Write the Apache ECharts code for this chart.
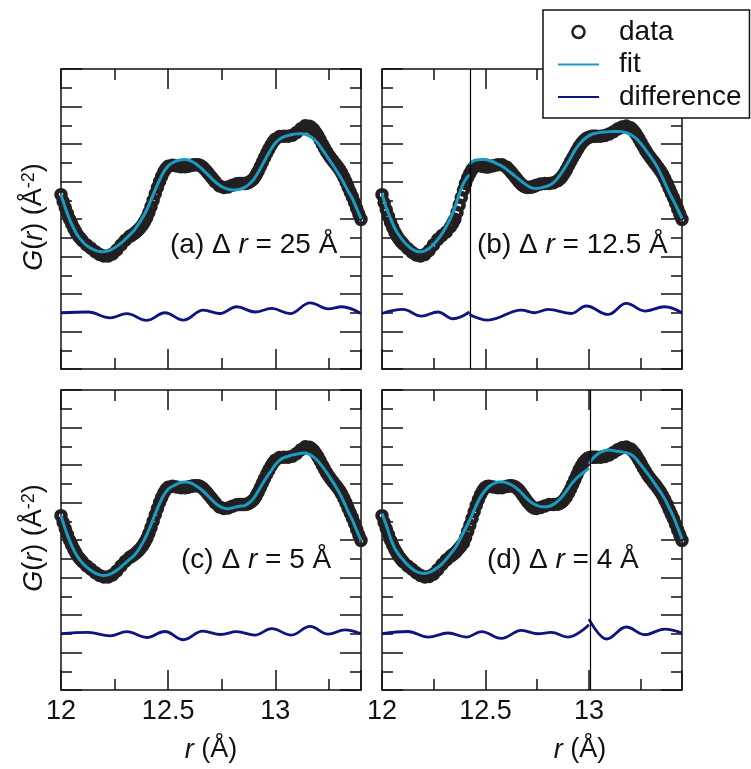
<!DOCTYPE html>
<html>
<head>
<meta charset="utf-8">
<script src="https://cdn.jsdelivr.net/npm/echarts@6/dist/echarts.min.js"></script>
<style>
  html, body { margin: 0; padding: 0; background: #fff; }
  #chart { width: 751px; height: 769px; }
</style>
</head>
<body>
<div id="chart"></div>
<script>
// r grid (Å) shared by the measured data and the fitted curves
const rGrid = [
  12.00, 12.02, 12.04, 12.06, 12.08, 12.10, 12.12, 12.14, 12.16, 12.18,
  12.20, 12.22, 12.24, 12.26, 12.28, 12.30, 12.32, 12.34, 12.36, 12.38,
  12.40, 12.42, 12.44, 12.46, 12.48, 12.50, 12.52, 12.54, 12.56, 12.58,
  12.60, 12.62, 12.64, 12.66, 12.68, 12.70, 12.72, 12.74, 12.76, 12.78,
  12.80, 12.82, 12.84, 12.86, 12.88, 12.90, 12.92, 12.94, 12.96, 12.98,
  13.00, 13.02, 13.04, 13.06, 13.08, 13.10, 13.12, 13.14, 13.16, 13.18,
  13.20, 13.22, 13.24, 13.26, 13.28, 13.30, 13.32, 13.34, 13.36, 13.38,
  13.40
];

// measured G(r) as plotted in each panel
const gDataAC = [
  1.30, 0.60, -0.01, -0.50, -0.89, -1.16, -1.38, -1.56, -1.74, -1.89,
  -1.97, -1.97, -1.86, -1.65, -1.39, -1.13, -0.93, -0.79, -0.59, -0.32,
  0.07, 0.66, 1.35, 2.00, 2.52, 2.81, 2.87, 2.83, 2.79, 2.79,
  2.84, 2.89, 2.89, 2.78, 2.54, 2.26, 1.98, 1.76, 1.68, 1.71,
  1.80, 1.88, 1.90, 1.89, 1.97, 2.16, 2.55, 3.04, 3.52, 3.95,
  4.26, 4.40, 4.42, 4.41, 4.47, 4.62, 4.82, 4.97, 4.95, 4.76,
  4.42, 3.99, 3.58, 3.24, 2.95, 2.64, 2.23, 1.70, 1.18, 0.56,
  -0.02
];
const gDataB = [
  1.30, 0.49, -0.18, -0.71, -1.08, -1.35, -1.57, -1.77, -1.92, -1.97,
  -1.89, -1.68, -1.38, -1.09, -0.88, -0.69, -0.41, -0.01, 0.75, 1.55,
  2.20, 2.64, 2.85, 2.84, 2.79, 2.79, 2.84, 2.89, 2.89, 2.78,
  2.54, 2.26, 1.98, 1.76, 1.68, 1.71, 1.80, 1.87, 1.89, 1.89,
  1.93, 2.04, 2.26, 2.62, 3.06, 3.47, 3.86, 4.16, 4.34, 4.41,
  4.42, 4.41, 4.45, 4.53, 4.65, 4.80, 4.91, 4.96, 4.87, 4.62,
  4.26, 3.85, 3.48, 3.17, 2.88, 2.56, 2.15, 1.64, 1.13, 0.54,
  -0.02
];
const gDataD = [
  1.30, 0.60, -0.01, -0.51, -0.89, -1.17, -1.38, -1.56, -1.75, -1.89,
  -1.97, -1.95, -1.82, -1.58, -1.31, -1.06, -0.87, -0.69, -0.44, -0.16,
  0.46, 1.15, 1.85, 2.43, 2.78, 2.87, 2.83, 2.79, 2.79, 2.85,
  2.89, 2.84, 2.65, 2.35, 2.03, 1.77, 1.68, 1.73, 1.82, 1.89,
  1.90, 1.91, 2.03, 2.30, 2.72, 3.22, 3.74, 4.13, 4.36, 4.41,
  4.42, 4.41, 4.46, 4.54, 4.67, 4.81, 4.92, 4.96, 4.86, 4.61,
  4.25, 3.84, 3.47, 3.16, 2.88, 2.56, 2.14, 1.63, 1.13, 0.54,
  -0.02
];

// additional measured points where the curve is steep (finer sampling there)
const rDataExtra = [
  12.01, 12.03, 12.05, 12.07, 12.09,
  12.33, 12.35, 12.37, 12.39, 12.41, 12.43, 12.45, 12.47, 12.49,
  12.59, 12.61, 12.63, 12.65, 12.67, 12.69, 12.71,
  12.83, 12.85, 12.87, 12.89, 12.91, 12.93, 12.95, 12.97, 12.99,
  13.17, 13.19, 13.21, 13.23, 13.25, 13.27, 13.29, 13.31, 13.33, 13.35, 13.37, 13.39
];
const gDataACExtra = [
  0.93, 0.29, -0.26, -0.70, -1.03,
  -0.86, -0.69, -0.47, -0.14, 0.35, 1.00, 1.68, 2.28, 2.69,
  2.81, 2.87, 2.90, 2.85, 2.67, 2.40, 2.12,
  1.89, 1.90, 1.92, 2.05, 2.34, 2.79, 3.28, 3.74, 4.12,
  4.87, 4.60, 4.21, 3.78, 3.40, 3.09, 2.80, 2.45, 1.98, 1.44, 0.88, 0.27
];
const gDataBExtra = [
  0.87, 0.14, -0.45, -0.91, -1.22,
  -0.22, 0.35, 1.15, 1.90, 2.44, 2.77, 2.86, 2.81, 2.78,
  2.67, 2.40, 2.12, 1.86, 1.71, 1.69, 1.75,
  2.14, 2.43, 2.84, 3.27, 3.67, 4.02, 4.26, 4.38, 4.42,
  4.76, 4.45, 4.06, 3.66, 3.32, 3.02, 2.72, 2.37, 1.91, 1.39, 0.85, 0.26
];
const gDataDExtra = [
  0.93, 0.29, -0.27, -0.71, -1.04,
  -0.78, -0.57, -0.31, 0.12, 0.80, 1.51, 2.16, 2.63, 2.85,
  2.88, 2.88, 2.76, 2.51, 2.19, 1.89, 1.71,
  1.96, 2.15, 2.50, 2.97, 3.48, 3.95, 4.26, 4.40, 4.42,
  4.75, 4.44, 4.05, 3.65, 3.31, 3.02, 2.72, 2.36, 1.90, 1.38, 0.84, 0.26
];

// fitted G(r): single-range fits (a), (c)
const fitA = [
  1.30, 0.60, -0.02, -0.52, -0.92, -1.20, -1.42, -1.57, -1.67, -1.73,
  -1.74, -1.70, -1.60, -1.46, -1.29, -1.08, -0.86, -0.62, -0.30, 0.06,
  0.48, 1.02, 1.57, 2.08, 2.52, 2.83, 3.00, 3.10, 3.16, 3.17,
  3.12, 3.01, 2.85, 2.65, 2.42, 2.20, 1.98, 1.80, 1.67, 1.59,
  1.55, 1.56, 1.61, 1.70, 1.88, 2.12, 2.48, 2.90, 3.32, 3.72,
  4.05, 4.26, 4.38, 4.45, 4.51, 4.54, 4.55, 4.52, 4.42, 4.26,
  4.02, 3.70, 3.36, 3.02, 2.68, 2.32, 1.92, 1.48, 1.08, 0.56,
  0.02
];
const fitC = [
  1.30, 0.59, -0.03, -0.54, -0.94, -1.23, -1.45, -1.63, -1.77, -1.86,
  -1.89, -1.86, -1.76, -1.61, -1.43, -1.23, -1.03, -0.84, -0.55, -0.17,
  0.27, 0.82, 1.40, 1.94, 2.40, 2.71, 2.87, 2.98, 3.08, 3.10,
  3.06, 2.96, 2.81, 2.64, 2.42, 2.19, 1.97, 1.80, 1.70, 1.67,
  1.71, 1.77, 1.81, 1.85, 2.00, 2.23, 2.60, 2.99, 3.35, 3.68,
  4.01, 4.25, 4.39, 4.46, 4.54, 4.58, 4.63, 4.64, 4.56, 4.42,
  4.20, 3.91, 3.59, 3.25, 2.89, 2.50, 2.03, 1.51, 1.06, 0.51,
  -0.02
];

// box-car fits (b), (d): two independent ranges meeting at the boundary
const breakB = 12.408;
const breakD = 12.966;
const fitB1 = [
  1.35, 0.60, 0.02, -0.50, -0.88, -1.18, -1.42, -1.60, -1.72, -1.75,
  -1.70, -1.56, -1.36, -1.10, -0.78, -0.40, 0.05, 0.62, 1.30, 1.90,
  2.26, 2.35
];
const fitB2 = [
  2.90, 3.05, 3.14, 3.18, 3.17, 3.12, 3.04, 2.93, 2.82, 2.66,
  2.48, 2.30, 2.11, 1.93, 1.77, 1.66, 1.63, 1.66, 1.72, 1.79,
  1.94, 2.18, 2.50, 2.86, 3.26, 3.66, 3.98, 4.22, 4.40, 4.52,
  4.58, 4.62, 4.64, 4.66, 4.67, 4.67, 4.66, 4.60, 4.50, 4.35,
  4.12, 3.85, 3.53, 3.22, 2.86, 2.42, 1.92, 1.42, 0.98, 0.52,
  0.02
];
const fitD1 = [
  1.40, 0.80, 0.08, -0.45, -0.80, -1.08, -1.33, -1.53, -1.68, -1.76,
  -1.78, -1.73, -1.62, -1.47, -1.27, -1.02, -0.74, -0.44, -0.05, 0.40,
  0.85, 1.32, 1.85, 2.30, 2.63, 2.86, 3.00, 3.09, 3.11, 3.06,
  2.96, 2.83, 2.64, 2.40, 2.17, 1.98, 1.86, 1.78, 1.77, 1.80,
  1.90, 2.07, 2.30, 2.60, 2.93, 3.20, 3.42, 3.60, 3.78, 3.82
];
const fitD2 = [
  4.05, 4.30, 4.52, 4.68, 4.77, 4.80, 4.77, 4.73, 4.70, 4.65,
  4.57, 4.40, 4.12, 3.83, 3.53, 3.22, 2.88, 2.55, 2.18, 1.72,
  1.24, 0.66, 0.05
];

// difference curves (data - fit), given at their turning points
const diffA_r = [12.00, 12.127, 12.229, 12.307, 12.40, 12.485, 12.571, 12.664, 12.742, 12.82, 12.905, 12.983, 13.069, 13.162, 13.247, 13.31, 13.40];
const diffA   = [0.00, 0.04, -0.27, -0.05, -0.41, 0.00, -0.39, 0.14, -0.04, 0.32, 0.04, 0.23, -0.05, 0.53, 0.21, 0.32, -0.04];
const diffB1_r = [12.00, 12.098, 12.184, 12.261, 12.331, 12.408];
const diffB1   = [-0.04, 0.18, -0.18, 0.04, -0.32, 0.04];
const diffB2_r = [12.408, 12.495, 12.65, 12.712, 12.775, 12.883, 12.953, 13.055, 13.14, 13.226, 13.319, 13.40];
const diffB2   = [-0.09, -0.39, 0.14, 0.00, 0.18, -0.04, 0.36, -0.09, 0.50, 0.09, 0.32, 0.00];
const diffC_r = [12.00, 12.127, 12.229, 12.307, 12.40, 12.485, 12.571, 12.661, 12.745, 12.82, 12.905, 12.983, 13.075, 13.162, 13.247, 13.325, 13.40];
const diffC   = [0.00, 0.07, -0.11, 0.11, -0.20, 0.12, -0.32, 0.14, -0.04, 0.11, -0.07, 0.27, -0.07, 0.39, -0.02, 0.21, 0.00];
const diffD1_r = [12.00, 12.121, 12.215, 12.308, 12.394, 12.464, 12.557, 12.65, 12.728, 12.79, 12.868, 12.966];
const diffD1   = [0.00, 0.12, -0.18, 0.04, -0.18, 0.11, -0.25, 0.18, 0.00, 0.07, -0.18, 0.48];
const diffD2_r = [12.966, 13.047, 13.14, 13.226, 13.319, 13.40];
const diffD2   = [0.78, -0.28, 0.36, -0.05, 0.25, 0.04];

// the difference curve is shown shifted below the data
const DIFF_BASE = -5;

// axis ranges
const xRangeData = { min: 12, max: 13.4, step: 0.5 };
const xRangeRightTicks = { min: 12, max: 13.45, step: 0.5 };
const yRange = { min: -8, max: 8, step: 2 };

const panelLabels = [
  '(a) Δ {i|r} = 25 Å',
  '(b) Δ {i|r} = 12.5 Å',
  '(c) Δ {i|r} = 5 Å',
  '(d) Δ {i|r} = 4 Å'
];
const legendNames = ['data', 'fit', 'difference'];

// ---------------------------------------------------------------
const FONT = '"Liberation Sans", Arial, Helvetica, sans-serif';
const INK = '#231f20';
const TEXT = '#111111';
const FIT_COLOR = '#1a9cc2';
const DIFF_COLOR = '#0e137e';

const pairs = (xs, ys, offset = 0) => xs.map((x, k) => [x, ys[k] + offset]);

const grids = [
  { left: 61,  top: 69,  width: 300, height: 300 },
  { left: 382, top: 69,  width: 300, height: 300 },
  { left: 61,  top: 390, width: 300, height: 300 },
  { left: 382, top: 390, width: 300, height: 300 }
];

const frameLine = { show: true, onZero: false, lineStyle: { color: TEXT, width: 1.5 } };
const tickStyle = { color: TEXT, width: 1.5 };

function xAxisCfg(gridIndex, position, range, showLabels, visible = true) {
  return {
    type: 'value', gridIndex, position, show: visible,
    min: range.min, max: range.max, interval: range.step,
    axisLine: frameLine,
    axisTick: { show: true, inside: true, length: 20, lineStyle: tickStyle },
    minorTick: { show: true, splitNumber: 2, length: 11, lineStyle: tickStyle },
    splitLine: { show: false }, minorSplitLine: { show: false },
    axisLabel: {
      show: showLabels, margin: 8, fontSize: 27, fontFamily: FONT, color: TEXT,
      showMaxLabel: false, showMinLabel: true
    },
    axisPointer: { show: false }
  };
}
function yAxisCfg(gridIndex, position) {
  return {
    type: 'value', gridIndex, position,
    min: yRange.min, max: yRange.max, interval: yRange.step,
    axisLine: frameLine,
    axisTick: { show: true, inside: true, length: 21, lineStyle: tickStyle },
    minorTick: { show: true, splitNumber: 2, length: 11, lineStyle: tickStyle },
    splitLine: { show: false }, minorSplitLine: { show: false },
    axisLabel: { show: false }
  };
}

const xAxes = [];
const yAxes = [];
const dataX = [];
const dataY = [];
grids.forEach((g, i) => {
  const rightCol = i % 2 === 1;
  const bottomRow = i >= 2;
  const tickRange = rightCol ? xRangeRightTicks : xRangeData;
  const bottomIdx = xAxes.push(xAxisCfg(i, 'bottom', tickRange, bottomRow)) - 1;
  xAxes.push(xAxisCfg(i, 'top', tickRange, false));
  if (rightCol) {
    dataX.push(xAxes.push(xAxisCfg(i, 'bottom', xRangeData, false, false)) - 1);
  } else {
    dataX.push(bottomIdx);
  }
  dataY.push(yAxes.push(yAxisCfg(i, 'left')) - 1);
  yAxes.push(yAxisCfg(i, 'right'));
});

// open circles, drawn densely enough to merge into a dark band
function dataSeries(p, values, extra) {
  return {
    type: 'scatter', name: 'data', xAxisIndex: dataX[p], yAxisIndex: dataY[p],
    data: pairs(rGrid, values).concat(pairs(rDataExtra, extra)),
    symbol: 'circle', symbolSize: 9,
    itemStyle: { color: 'transparent', borderColor: INK, borderWidth: 4.5, opacity: 1 },
    silent: true, z: 2
  };
}
function fitSeries(p, xs, ys, boundary) {
  const s = {
    type: 'line', name: 'fit', xAxisIndex: dataX[p], yAxisIndex: dataY[p],
    data: pairs(xs, ys), smooth: 0.3, symbol: 'none', showSymbol: false,
    lineStyle: { color: FIT_COLOR, width: 3 }, itemStyle: { color: FIT_COLOR },
    silent: true, z: 3
  };
  if (boundary !== undefined) {
    s.markLine = {
      silent: true, symbol: 'none', animation: false,
      label: { show: false },
      lineStyle: { color: '#000', width: 1.2, type: 'solid' },
      emphasis: { disabled: true },
      data: [{ xAxis: boundary }]
    };
  }
  return s;
}
function diffSeries(p, xs, ys) {
  return {
    type: 'line', name: 'difference', xAxisIndex: dataX[p], yAxisIndex: dataY[p],
    data: pairs(xs, ys, DIFF_BASE), smooth: 0.4, smoothMonotone: 'x',
    symbol: 'none', showSymbol: false,
    lineStyle: { color: DIFF_COLOR, width: 2.8 }, itemStyle: { color: DIFF_COLOR },
    silent: true, z: 4
  };
}

const rB1 = rGrid.slice(0, 21).concat([breakB]);
const rB2 = [breakB].concat(rGrid.slice(21));
const rD1 = rGrid.slice(0, 49).concat([breakD]);
const rD2 = [breakD].concat(rGrid.slice(49));

const series = [
  dataSeries(0, gDataAC, gDataACExtra), fitSeries(0, rGrid, fitA), diffSeries(0, diffA_r, diffA),
  dataSeries(1, gDataB, gDataBExtra), fitSeries(1, rB1, fitB1, breakB), fitSeries(1, rB2, fitB2),
  diffSeries(1, diffB1_r, diffB1), diffSeries(1, diffB2_r, diffB2),
  dataSeries(2, gDataAC, gDataACExtra), fitSeries(2, rGrid, fitC), diffSeries(2, diffC_r, diffC),
  dataSeries(3, gDataD, gDataDExtra), fitSeries(3, rD1, fitD1, breakD), fitSeries(3, rD2, fitD2),
  diffSeries(3, diffD1_r, diffD1), diffSeries(3, diffD2_r, diffD2)
];

const italic = { fontStyle: 'italic', fontFamily: FONT, fontSize: 28, fill: TEXT };
const labelPos = [[170, 245], [477, 245], [181, 560], [487, 560]];
const graphic = panelLabels.map((t, i) => ({
  type: 'text', x: labelPos[i][0], y: labelPos[i][1], z: 1,
  style: {
    text: t, fontFamily: FONT, fontSize: 28, fill: TEXT,
    align: 'left', verticalAlign: 'middle', rich: { i: italic }
  }
}));

const yTitle = '{i|G}({i|r}) (Å{sup|-2})';
const titleRich = {
  i: { fontStyle: 'italic', fontFamily: FONT, fontSize: 27, fill: TEXT },
  sup: { fontFamily: FONT, fontSize: 18, fill: TEXT, verticalAlign: 'top' }
};
[[34, 217], [34, 538]].forEach(([x, y]) => graphic.push({
  type: 'text', x, y, rotation: Math.PI / 2,
  style: {
    text: yTitle, fontFamily: FONT, fontSize: 27, fill: TEXT,
    align: 'center', verticalAlign: 'middle', rich: titleRich
  }
}));
[[211, 750], [580, 750]].forEach(([x, y]) => graphic.push({
  type: 'text', x, y,
  style: {
    text: '{i|r} (Å)', fontFamily: FONT, fontSize: 27, fill: TEXT,
    align: 'center', verticalAlign: 'middle', rich: titleRich
  }
}));

// legend: the line entries show only their stroke
const hiddenSymbol = { opacity: 0 };
const chart = echarts.init(document.getElementById('chart'), null, { renderer: 'canvas' });
chart.setOption({
  animation: false,
  backgroundColor: '#fff',
  grid: grids,
  xAxis: xAxes,
  yAxis: yAxes,
  series,
  graphic,
  legend: {
    data: [
      { name: legendNames[0], itemStyle: { borderWidth: 2.5 } },
      { name: legendNames[1], itemStyle: hiddenSymbol },
      { name: legendNames[2], itemStyle: hiddenSymbol }
    ],
    orient: 'vertical', left: 543, top: 10,
    padding: [8, 8, 7, 14],
    itemGap: 4.5, itemWidth: 41, itemHeight: 12,
    selectedMode: false,
    textStyle: { fontFamily: FONT, fontSize: 28, color: TEXT, lineHeight: 28, padding: [0, 0, 0, 15] },
    borderColor: TEXT, borderWidth: 1.5, borderRadius: 0,
    backgroundColor: '#fff',
    z: 20
  }
});
</script>
</body>
</html>
